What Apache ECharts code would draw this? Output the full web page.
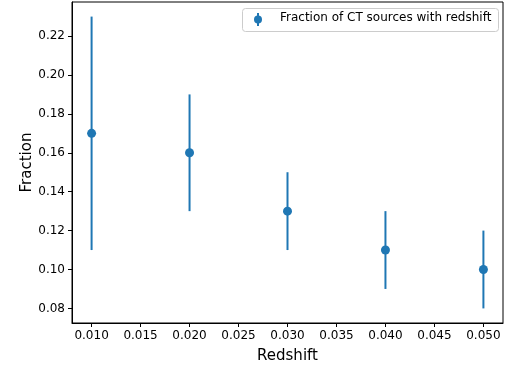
<!DOCTYPE html>
<html>
<head>
<meta charset="utf-8">
<script src="https://cdn.jsdelivr.net/npm/echarts@6/dist/echarts.min.js"></script>
<style>
html,body{margin:0;padding:0;background:#fff;}
#c{width:509px;height:367px;}
</style>
</head>
<body>
<div id="c"></div>
<script>
const redshift = [0.010, 0.020, 0.030, 0.040, 0.050];
const fraction = [0.17, 0.16, 0.13, 0.11, 0.10];
const errLow = [0.11, 0.13, 0.11, 0.09, 0.08];
const errHigh = [0.23, 0.19, 0.15, 0.13, 0.12];
const xTicks = [0.010, 0.015, 0.020, 0.025, 0.030, 0.035, 0.040, 0.045, 0.050];
const yTicks = [0.08, 0.10, 0.12, 0.14, 0.16, 0.18, 0.20, 0.22];
const seriesName = 'Fraction of CT sources with redshift';

const blue = '#1f77b4';
const font = 'DejaVu Sans';

const chart = echarts.init(document.getElementById('c'), null, {renderer: 'canvas'});

const errData = redshift.map((x, i) => [x, errLow[i], errHigh[i]]);
const ptData = redshift.map((x, i) => [x, fraction[i]]);

chart.setOption({
  animation: false,
  backgroundColor: '#fff',
  grid: {left: 72, right: 6, top: 2, bottom: 44, outerBoundsMode: 'none', containLabel: false, show: true, borderColor: '#000', borderWidth: 1, backgroundColor: 'transparent'},
  xAxis: {
    type: 'value', min: 0.008, max: 0.052,
    name: 'Redshift', nameLocation: 'middle', nameGap: 26, nameMoveOverlap: false,
    nameTextStyle: {fontFamily: font, fontSize: 15, color: '#000'},
    axisLine: {show: true, onZero: false, lineStyle: {color: '#000', width: 1}},
    axisTick: {show: true, inside: false, length: 4, lineStyle: {color: '#000'}, customValues: xTicks},
    axisLabel: {customValues: xTicks, fontFamily: font, fontSize: 12, color: '#000', margin: 7, formatter: v => v.toFixed(3)},
    splitLine: {show: false}
  },
  yAxis: {
    type: 'value', min: 0.0725, max: 0.2375,
    name: 'Fraction', nameLocation: 'middle', nameGap: 37, nameMoveOverlap: false,
    nameTextStyle: {fontFamily: font, fontSize: 15, color: '#000'},
    axisLine: {show: true, onZero: false, lineStyle: {color: '#000', width: 1}},
    axisTick: {show: true, inside: false, length: 4, lineStyle: {color: '#000'}, customValues: yTicks},
    axisLabel: {customValues: yTicks, fontFamily: font, fontSize: 12, color: '#000', margin: 7, formatter: v => v.toFixed(2)},
    splitLine: {show: false}
  },
  graphic: [
    {type: 'rect', left: 242, top: 8, shape: {width: 256, height: 23, r: 3}, style: {fill: 'rgba(255,255,255,0.8)', stroke: '#cccccc', lineWidth: 1}, z: 100},
    {type: 'line', shape: {x1: 258, y1: 13, x2: 258, y2: 26}, style: {stroke: blue, lineWidth: 2}, z: 101},
    {type: 'circle', shape: {cx: 258, cy: 19.5, r: 4}, style: {fill: blue}, z: 101},
    {type: 'text', left: 280, top: 12, style: {text: seriesName, fontFamily: font, fontSize: 12, fill: '#000'}, z: 101}
  ],
  series: [
    {
      type: 'custom',
      name: 'err',
      data: errData,
      encode: {x: 0, y: [1, 2]},
      renderItem: function (params, api) {
        const p1 = api.coord([api.value(0), api.value(1)]);
        const p2 = api.coord([api.value(0), api.value(2)]);
        return {type: 'line', shape: {x1: p1[0], y1: p1[1], x2: p2[0], y2: p2[1]}, style: {stroke: blue, lineWidth: 2}};
      },
      z: 2
    },
    {
      type: 'scatter',
      name: seriesName,
      data: ptData,
      symbol: 'circle',
      symbolSize: 9,
      itemStyle: {color: blue, opacity: 1},
      z: 3
    }
  ]
});
</script>
</body>
</html>
